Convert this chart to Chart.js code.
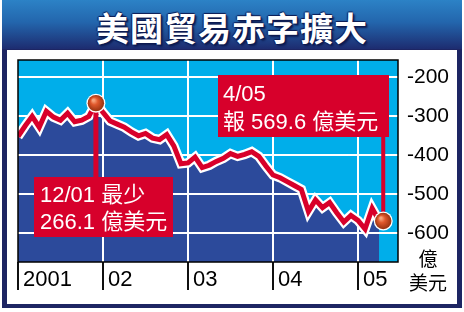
<!DOCTYPE html>
<html>
<head>
<meta charset="utf-8">
<script src="https://cdn.jsdelivr.net/npm/chart.js@4.4.1/dist/chart.umd.min.js"></script>
<style>
  html, body { margin:0; padding:0; background:#fff; }
  #wrap { position:relative; width:464px; height:312px; overflow:hidden; }
  #frame { position:absolute; left:2px; top:0; width:460px; height:308px; background:#1d2563; }
  #band { position:absolute; left:2px; top:0; width:460px; height:49px;
          background:linear-gradient(to bottom, #2c82c6 0%, #2366ad 45%, #1d2c70 100%); }
  #title { position:absolute; left:0; top:0; width:464px; height:52px; line-height:54px; text-align:center;
           color:#fff; font-family:"Noto Sans CJK TC","Noto Sans CJK SC",sans-serif; font-weight:bold;
           font-size:33px; letter-spacing:1px;
           text-shadow: 1px 1px 0 #0d1a50, -1px 0 1px #0d1a50, 0 -1px 1px #0d1a50, 2px 2px 2px #0d1a50; }
  #panel { position:absolute; left:7px; top:50px; width:450px; height:254px; background:#fff; }
  canvas { position:absolute; left:0; top:0; }
  .unit { position:absolute; width:60px; text-align:center; color:#000;
          font-family:"Noto Sans CJK TC",sans-serif; font-size:19px; line-height:22px; }
</style>
</head>
<body>
<div id="wrap">
  <div id="frame"></div>
  <div id="band"></div>
  <div id="title">美國貿易赤字擴大</div>
  <div id="panel"></div>
  <canvas id="c" width="464" height="312"></canvas>
  <div class="unit" style="left:398px; top:247px;">億</div>
  <div class="unit" style="left:398px; top:271px;">美元</div>
</div>
<script>
// Monthly US trade balance, 億美元, Jan 2001 .. Apr 2005
const years = ['2001', '2002', '2003', '2004', '2005'];
const xTickLabels = ['2001', '02', '03', '04', '05'];
const xTickMonths = [0, 12, 24, 36, 48];
const yTicks = [-200, -300, -400, -500, -600];
const deficit2001 = [-352, -325, -300, -328, -287, -302, -310, -292, -314, -310, -300, -266.1];
const deficit2002 = [-290, -312, -320, -328, -340, -350, -344, -356, -360, -347, -376, -422];
const deficit2003 = [-420, -405, -432, -426, -416, -408, -396, -403, -398, -391, -403, -428];
const deficit2004 = [-451, -458, -468, -478, -488, -545, -515, -535, -522, -548, -572, -555];
const deficit2005 = [-568, -590, -537, -569.6];
const deficit = [].concat(deficit2001, deficit2002, deficit2003, deficit2004, deficit2005);
const lowIndex = 11;    // 12/01
const lastIndex = deficit.length - 1; // 4/05
const note1 = ['12/01 最少', '266.1 億美元'];
const note2 = ['4/05', '報 569.6 億美元'];

const points = deficit.map((v, i) => ({ x: i, y: v }));

const TXT = '22px "Liberation Sans", "Noto Sans CJK TC", sans-serif';

function ball(ctx, x, y) {
  ctx.save();
  ctx.beginPath();
  ctx.arc(x, y, 9.5, 0, Math.PI * 2);
  ctx.fillStyle = '#ffffff';
  ctx.fill();
  const g = ctx.createRadialGradient(x - 2.5, y - 3, 1, x, y, 8.5);
  g.addColorStop(0, '#f7a27a');
  g.addColorStop(0.35, '#e0582c');
  g.addColorStop(1, '#93300f');
  ctx.beginPath();
  ctx.arc(x, y, 8.2, 0, Math.PI * 2);
  ctx.fillStyle = g;
  ctx.fill();
  ctx.restore();
}

const deco = {
  id: 'deco',
  beforeDraw(chart) {
    const a = chart.chartArea, ctx = chart.ctx;
    ctx.save();
    ctx.fillStyle = '#00aeea';
    ctx.fillRect(a.left, a.top, a.right - a.left, a.bottom - a.top);
    ctx.restore();
  },
  afterDatasetDraw(chart, args) {
    if (args.index === 2) {
      chart.scales.x.drawGrid(chart.chartArea);
      chart.scales.y.drawGrid(chart.chartArea);
    }
  },
  afterDatasetsDraw(chart) {
    const a = chart.chartArea, ctx = chart.ctx;
    const xs = chart.scales.x, ys = chart.scales.y;
    ctx.save();
    ctx.strokeStyle = '#000';
    ctx.lineWidth = 1.5;
    ctx.strokeRect(a.left, a.top, a.right - a.left, a.bottom - a.top);

    const p1x = xs.getPixelForValue(lowIndex), p1y = ys.getPixelForValue(deficit[lowIndex]);
    const p2x = xs.getPixelForValue(lastIndex), p2y = ys.getPixelForValue(deficit[lastIndex]);

    // box 1
    const b1 = { x: 34, y: 177, w: 139, h: 60 };
    const b2 = { x: 218, y: 75, w: 171, h: 62 };
    ctx.fillStyle = '#d7002b';
    ctx.fillRect(p1x - 2.5, p1y, 5, b1.y - p1y + 2);
    ctx.fillRect(p2x + 2, b2.y + b2.h - 2, 4, p2y - (b2.y + b2.h) + 2);
    ctx.fillRect(b1.x, b1.y, b1.w, b1.h);
    ctx.fillRect(b2.x, b2.y, b2.w, b2.h);

    ball(ctx, p1x, p1y);
    ball(ctx, p2x + 4, p2y);

    ctx.fillStyle = '#fff';
    ctx.font = TXT;
    ctx.textBaseline = 'middle';
    ctx.textAlign = 'left';
    ctx.fillText(note1[0], 40, 196);
    ctx.fillText(note1[1], 40, 223);
    ctx.fillText(note2[0], 223, 95);
    ctx.fillText(note2[1], 223, 123);
    ctx.restore();
  }
};

new Chart(document.getElementById('c'), {
  type: 'line',
  data: {
    datasets: [
      { data: points, borderColor: '#d8002a', borderWidth: 5, pointRadius: 0, fill: false,
        borderJoinStyle: 'miter', order: 0, clip: 0 },
      { data: points, borderColor: '#ffffff', borderWidth: 9.5, pointRadius: 0, fill: false,
        borderJoinStyle: 'miter', order: 1, clip: 0 },
      { data: points, borderColor: 'rgba(0,0,0,0)', borderWidth: 0, pointRadius: 0,
        backgroundColor: '#2c4a9b', fill: 'start', order: 2, clip: 0 }
    ]
  },
  options: {
    responsive: false,
    animation: false,
    devicePixelRatio: 1,
    layout: { padding: { left: 18, top: 60, right: 0, bottom: 0 } },
    plugins: { legend: { display: false }, tooltip: { enabled: false } },
    scales: {
      x: {
        type: 'linear', min: 0, max: 53.65,
        afterBuildTicks: s => { s.ticks = xTickMonths.map(v => ({ value: v })); },
        afterFit: s => { s.height = 50; },
        border: { display: false },
        grid: {
          color: c => (c.tick && c.tick.value === 0) ? 'rgba(0,0,0,0)' : '#ffffff',
          lineWidth: 2, tickColor: '#000', tickWidth: 1.5, tickLength: 28
        },
        ticks: {
          autoSkip: false, maxRotation: 0, align: 'start', labelOffset: 5, padding: -23,
          color: '#000', font: { family: '"Liberation Sans", sans-serif', size: 22 },
          callback: (v) => xTickLabels[xTickMonths.indexOf(v)]
        }
      },
      y: {
        type: 'linear', position: 'right', min: -675, max: -155,
        afterBuildTicks: s => { s.ticks = yTicks.map(v => ({ value: v })); },
        afterFit: s => { s.width = 66; },
        border: { display: false },
        grid: { color: '#ffffff', lineWidth: 2, drawTicks: false },
        ticks: {
          autoSkip: false, padding: 9, color: '#000',
          font: { family: '"Liberation Sans", sans-serif', size: 21 },
          callback: v => String(v)
        }
      }
    }
  },
  plugins: [deco]
});
</script>
</body>
</html>
